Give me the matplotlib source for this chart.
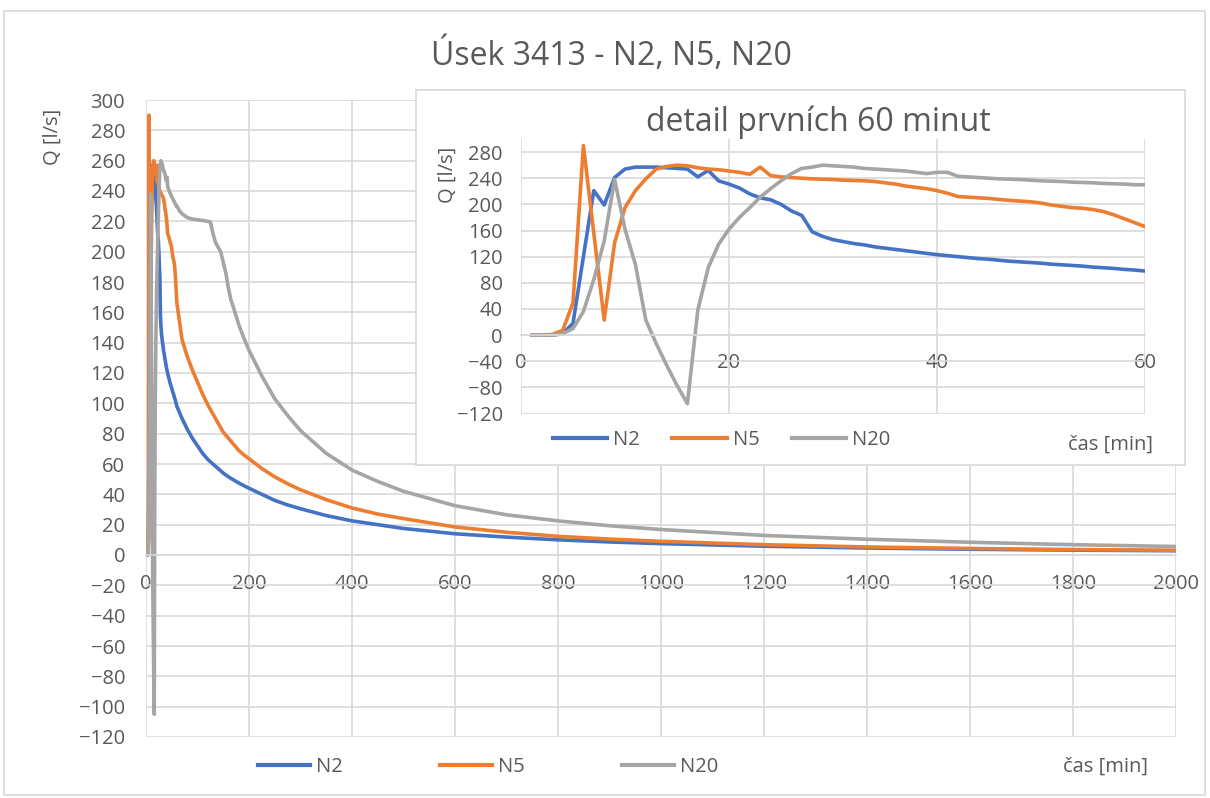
import matplotlib
matplotlib.use("Agg")
import matplotlib.pyplot as plt
from matplotlib.lines import Line2D
from matplotlib.patches import Rectangle
import numpy as np

# ---------------- data ----------------
t_detail = list(range(1, 61))
n2_detail = [0, 0, 0, 2, 18, 120, 221, 199, 241, 254,
             257, 257, 257, 256, 255, 254, 242, 252, 236, 231,
             225, 216, 210, 207, 200, 190, 183, 158, 151, 146,
             143, 140, 138, 135, 133, 131, 129, 127, 125, 123,
             121.5, 120, 118.5, 117, 116, 114.5, 113, 112, 111, 110,
             108.5, 107.5, 106.5, 105.5, 104, 103, 102, 100.5, 99.5, 98]
n5_detail = [0, 0, 1, 7, 49, 290, 156, 23, 141, 195,
             221, 239, 254, 258, 260, 259, 256, 254, 253, 251,
             249, 246, 257, 244, 242, 241, 240, 239, 238.5, 238,
             237, 236.5, 236, 235, 233, 231, 228, 226, 224, 221,
             217, 212, 211, 210, 209, 207.5, 206, 205, 204, 202,
             199, 197, 195, 194, 192, 189, 184, 178, 172, 166]
n20_detail = [0, 0, 0, 2, 10, 36, 85, 144, 238, 162,
              108, 23, -13, -46, -77, -105, 38, 103, 139, 162,
              180, 195, 211, 224, 236, 247, 255, 257, 260, 259,
              258, 257, 255, 254, 253, 252, 251, 249, 247, 249,
              249, 243, 242, 241, 240, 239, 238.5, 238, 237, 236,
              235.5, 235, 234, 233.5, 233, 232, 231.5, 231, 230, 230]

t_tail = [65, 70, 80, 90, 100, 110, 120, 125, 130, 135, 140, 145, 150, 155,
          160, 165, 170, 180, 190, 200, 225, 250, 275, 300, 350, 400, 450,
          500, 600, 700, 800, 900, 1000, 1200, 1400, 1600, 1800, 2000]
n2_tail = [94, 90, 83, 77, 72, 67, 63, 61.5, 60, 58.5, 57, 55.5, 54, 52.8,
           51.6, 50.5, 49.5, 47.5, 45.7, 44, 40, 36, 33, 30.5, 26, 22.5, 20,
           17.5, 14, 11.8, 10, 8.6, 7.5, 5.8, 4.6, 3.8, 3.2, 2.8]
n5_tail = [154, 142, 131, 122, 114, 106, 99, 96, 93, 90, 87, 84, 81, 79,
           77, 75, 73, 69, 66, 63.5, 57, 51.5, 47, 43, 36.5, 31, 27,
           24, 18.5, 15, 12.3, 10.5, 9, 6.8, 5.3, 4.3, 3.6, 3.1]
n20_tail = [227, 225, 222.5, 221.5, 221, 220.5, 220, 219.5, 212, 206, 203, 200, 193, 186,
            176, 168, 163, 152, 143, 135, 118, 103, 92, 82, 67, 56, 48.5,
            42, 32.5, 26.5, 22.5, 19.3, 16.8, 12.9, 10.4, 8.4, 6.8, 5.6]

series_names = ["N2", "N5", "N20"]
colors = ["#4472C4", "#ED7D31", "#A5A5A5"]

main_title = "Úsek 3413 - N2, N5, N20"
inset_title = "detail prvních 60 minut"
ylabel = "Q [l/s]"
xlabel = "čas [min]"

main_xticks = list(range(0, 2001, 200))
main_yticks = list(range(-120, 301, 20))
inset_xticks = [0, 20, 40, 60]
inset_yticks = list(range(-120, 281, 40))

# ---------------- styling ----------------
FONT = ["Open Sans", "DejaVu Sans"]
plt.rcParams["font.family"] = FONT
TXT = "#595959"
GRID = "#D9D9D9"
W, H = 1210, 798
LW = 2.6

fig = plt.figure(figsize=(W / 100, H / 100), dpi=100)
fig.patch.set_facecolor("white")

def fx(px):
    return px / W

def fy(py):
    return 1 - py / H

# outer chart border
fig.patches.append(Rectangle((fx(4), fy(795)), fx(1205) - fx(4), fy(11) - fy(795),
                             transform=fig.transFigure, fill=False,
                             edgecolor=GRID, lw=1.2, zorder=0))

t_full = t_detail + t_tail
full = [n2_detail + n2_tail, n5_detail + n5_tail, n20_detail + n20_tail]
details = [n2_detail, n5_detail, n20_detail]

# main axes
ax = fig.add_axes([fx(146), fy(737), fx(1176) - fx(146), fy(100) - fy(737)])
for y, c, n in zip(full, colors, series_names):
    ax.plot(t_full, y, color=c, lw=LW, label=n, solid_joinstyle="round",
            solid_capstyle="round")
ax.set_xlim(0, 2000)
ax.set_ylim(-120, 300)
ax.set_xticks(main_xticks)
ax.set_yticks(main_yticks)
ax.grid(True, color=GRID, lw=1.2)
ax.set_axisbelow(True)
for s in ["top", "right", "left"]:
    ax.spines[s].set_visible(False)
ax.spines["bottom"].set_position(("data", 0))
ax.spines["bottom"].set_color(GRID)
ax.spines["bottom"].set_linewidth(1.2)
ax.tick_params(axis="both", length=0, labelsize=14.5, colors=TXT)
ax.tick_params(axis="y", pad=15)
ax.tick_params(axis="x", pad=14)
fig.text(fx(53), fy(137), ylabel, rotation=90, ha="center", va="center",
         fontsize=14.5, color=TXT)
fig.text(fx(611), fy(55), main_title, ha="center", va="center",
         fontsize=23, color=TXT)

handles = [Line2D([], [], color=c, lw=3) for c in colors]
fig.legend(handles, series_names, loc="center left",
           bbox_to_anchor=(fx(258), fy(767)), ncol=3, frameon=False,
           fontsize=14.5, handlelength=2.6, handletextpad=0.3,
           columnspacing=4.8, borderpad=0, borderaxespad=0, labelcolor=TXT)
fig.text(fx(1148), fy(767), xlabel, ha="right", va="center",
         fontsize=14.5, color=TXT)

# inset box
box = fig.add_axes([fx(416), fy(465), fx(1185) - fx(416), fy(90) - fy(465)])
box.set_xticks([])
box.set_yticks([])
box.set_facecolor("white")
for s in box.spines.values():
    s.set_color(GRID)
    s.set_linewidth(1.2)

# inset axes
ai = fig.add_axes([fx(521), fy(413.5), fx(1145) - fx(521), fy(139) - fy(413.5)])
for y, c, n in zip(details, colors, series_names):
    ai.plot(t_detail, y, color=c, lw=LW, label=n, solid_joinstyle="round",
            solid_capstyle="round")
ai.set_xlim(0, 60)
ai.set_ylim(-120, 300)
ai.set_xticks(inset_xticks)
ai.set_yticks(inset_yticks)
ai.grid(True, color=GRID, lw=1.2)
ai.set_axisbelow(True)
ai.set_facecolor("none")
for s in ["top", "right", "left"]:
    ai.spines[s].set_visible(False)
ai.spines["bottom"].set_position(("data", 0))
ai.spines["bottom"].set_color(GRID)
ai.spines["bottom"].set_linewidth(1.2)
ai.tick_params(axis="both", length=0, labelsize=14.5, colors=TXT)
ai.tick_params(axis="y", pad=13)
ai.tick_params(axis="x", pad=13)
fig.text(fx(448), fy(175), ylabel, rotation=90, ha="center", va="center",
         fontsize=14.5, color=TXT)
fig.text(fx(818), fy(122), inset_title, ha="center", va="center",
         fontsize=23, color=TXT)
fig.legend(handles, series_names, loc="center left",
           bbox_to_anchor=(fx(553), fy(440)), ncol=3, frameon=False,
           fontsize=14.5, handlelength=2.7, handletextpad=0.3,
           columnspacing=1.6, borderpad=0, borderaxespad=0, labelcolor=TXT)
fig.text(fx(1153), fy(445), xlabel, ha="right", va="center",
         fontsize=14.5, color=TXT)

fig.savefig("out.png", dpi=100, facecolor="white")
